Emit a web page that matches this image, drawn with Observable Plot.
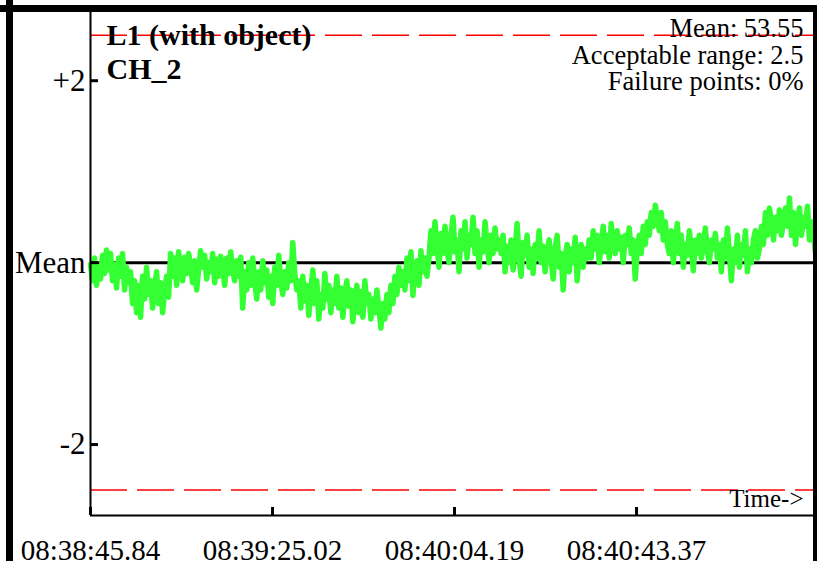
<!DOCTYPE html>
<html><head><meta charset="utf-8">
<script src="https://cdn.jsdelivr.net/npm/d3@7"></script>
<script src="https://cdn.jsdelivr.net/npm/@observablehq/plot@0.6"></script>
<style>
html,body{margin:0;padding:0;background:#fff;width:817px;height:561px;overflow:hidden}
#wrap{position:relative;width:817px;height:561px}
#chart{position:absolute;left:0;top:0}
.bar{position:absolute;background:#000}
</style></head><body>
<div id="wrap"><div id="chart"></div>
<div class="bar" style="left:0;top:5px;width:815px;height:7px"></div>
<div class="bar" style="left:6px;top:0;width:7px;height:561px"></div>
<div class="bar" style="left:813px;top:5px;width:4px;height:556px"></div>
</div>
<script>
const tickLabels = ["08:38:45.84", "08:39:25.02", "08:40:04.19", "08:40:43.37"];
const windowSeconds = 156.05;
const yTickValues = [2, 0, -2];
const yTickLabels = ["+2", "Mean", "-2"];
const titleLines = ["L1 (with object)", "CH_2"];
const infoLines = ["Mean: 53.55", "Acceptable range: 2.5", "Failure points: 0%"];
const axisNote = ["Time->"];
const acceptableRange = 2.5;
const yDomain = [-2.78, 2.75];
// deviation from mean (left to right)
const deviation = [
  -0.02, -0.2, 0.05, -0.25, -0.05, -0.18, 0.08, -0.12, 0.14, -0.08, 0.1, -0.2, -0.02, -0.28, 0.05, -0.15, 0.1, -0.3, -0.05, -0.22,
  -0.1, -0.45, -0.2, -0.55, -0.25, -0.6, -0.15, -0.4, -0.05, -0.35, -0.2, -0.5, -0.28, -0.1, -0.45, -0.22, -0.55, -0.3, -0.15, -0.38,
  0.1, -0.15, 0.05, -0.25, 0.12, -0.08, -0.2, 0.06, -0.12, 0.1, -0.05, -0.22, 0.02, -0.3, -0.08, 0.13, -0.05, 0.08, -0.18, 0.0, -0.1, 0.1, -0.22, 0.04, -0.15, 0.07, -0.05, -0.25, 0.05, -0.12, 0.12, -0.08, -0.2, 0.02, -0.15, 0.06, -0.5,
  -0.1, -0.3, 0.0, -0.25, 0.05, -0.2, -0.4, -0.1, -0.3, 0.02, -0.22, -0.08, -0.38, -0.15, -0.45, -0.05, -0.25, 0.08, -0.2, -0.35, -0.1, -0.28, 0.0, -0.2, 0.22, -0.12, -0.3,
  -0.2, -0.5, -0.15, -0.42, -0.25, -0.58, -0.3, -0.08, -0.45, -0.2, -0.62, -0.35, -0.5, -0.12, -0.4, -0.25, -0.55, -0.3, -0.45, -0.15, -0.5, -0.28, -0.6, -0.35, -0.2, -0.48, -0.3, -0.65, -0.4, -0.25, -0.55, -0.32, -0.6, -0.2, -0.45, -0.35, -0.62, -0.4, -0.55, -0.3, -0.5,
  -0.72, -0.45, -0.62, -0.35, -0.55, -0.25, -0.45, -0.15, -0.35, -0.05, -0.25, -0.1,
  -0.3, 0.05, -0.2, 0.12, -0.36, -0.05, 0.02, -0.25, 0.13, -0.1, 0.05, -0.15,
  0.05, 0.35, 0.1, 0.45, 0.2, -0.05, 0.32, 0.1, 0.4, 0.15, 0.0, 0.3, 0.5, 0.12, 0.25, -0.1, 0.35, 0.15, 0.45, 0.05, 0.3, 0.2, 0.5, 0.1, 0.35, -0.05, 0.25, 0.12, 0.45, 0.2, 0.0, 0.3, 0.1, 0.38, 0.15, 0.25,
  0.1, 0.3, -0.1, 0.18, 0.0, 0.25, -0.08, 0.12, 0.43, 0.05, -0.15, 0.22, 0.08, 0.3, -0.05, 0.15, -0.12, 0.2, 0.05, 0.35, 0.0, 0.18, -0.1, 0.12, 0.25, 0.02, -0.18, 0.15, 0.3, -0.05, 0.1, -0.3, 0.05, 0.2, -0.1, 0.15, 0.0, 0.28, -0.2, 0.1, 0.2, -0.05, 0.15, 0.05,
  0.25, 0.05, 0.35, 0.15, 0.3, 0.0, 0.2, 0.4, 0.12, 0.3, 0.05, 0.43, 0.2, 0.1, 0.35, 0.15, 0.28, 0.0, 0.3, 0.2, 0.38, 0.1, 0.25,
  -0.18, 0.15, 0.3, 0.1, 0.4, 0.2, 0.45, 0.3, 0.55, 0.4, 0.63, 0.5, 0.35, 0.55, 0.25, 0.45, 0.2,
  0.1, 0.35, 0.0, 0.25, 0.43, 0.1, 0.3, -0.05, 0.2, 0.08, 0.35, 0.15, -0.09, 0.25, 0.1, 0.3, 0.05, 0.2, 0.38, 0.12, 0.0, 0.25, 0.15, 0.32, 0.05,
  0.2, -0.1, 0.25, 0.05, 0.38, 0.1, -0.2, 0.15, 0.0, 0.3, -0.05, 0.2, 0.08, 0.35, -0.1, 0.15, 0.0, 0.25, 0.35, 0.05, 0.15,
  0.4, 0.2, 0.55, 0.3, 0.6, 0.45, 0.25, 0.5, 0.35, 0.58, 0.3, 0.45, 0.6, 0.4,
  0.71, 0.3, 0.55, 0.2, 0.45, 0.6, 0.3, 0.5, 0.4, 0.62, 0.25, 0.45, 0.3, 0.1
];

const toSec = s => { const [h, m, sec] = s.split(":").map(Number); return h * 3600 + m * 60 + sec; };
const tickTimes = tickLabels.map(toSec);
const startTime = tickTimes[0];
const endTime = startTime + windowSeconds;
const data = deviation.map((v, i) => ({t: startTime + i * windowSeconds / (deviation.length - 1), v}));

const plot = Plot.plot({
  width: 817, height: 561,
  marginLeft: 90, marginRight: 2, marginTop: 12, marginBottom: 46,
  style: {fontFamily: "'Liberation Serif', 'Times New Roman', serif", background: "white", color: "black", overflow: "visible"},
  x: {domain: [startTime, endTime]},
  y: {domain: yDomain},
  marks: [
    Plot.ruleY([-acceptableRange, acceptableRange], {stroke: "#ff0000", strokeWidth: 1.5, strokeDasharray: "37,10"}),
    Plot.ruleY([0], {stroke: "black", strokeWidth: 3}),
    Plot.line(data, {x: "t", y: "v", stroke: "#33ff33", strokeWidth: 5.5, strokeLinejoin: "round", strokeLinecap: "round"}),
    Plot.ruleX([startTime], {stroke: "black", strokeWidth: 2}),
    Plot.ruleY([yDomain[0]], {stroke: "black", strokeWidth: 2}),
    Plot.axisY(yTickValues, {tickSize: -8, strokeWidth: 3, tickFormat: () => "", label: null}),
    Plot.axisY(yTickValues, {tickSize: 0, tickPadding: 5, fontSize: 31, tickFormat: d => yTickLabels[yTickValues.indexOf(d)], label: null}),
    Plot.axisX(tickTimes, {tickSize: -8, strokeWidth: 3, tickFormat: () => "", label: null}),
    Plot.axisX(tickTimes, {tickSize: 0, tickPadding: 24, fontSize: 29, tickFormat: d => tickLabels[tickTimes.indexOf(d)], label: null}),
    Plot.text([titleLines.join("\n")], {text: d => d, frameAnchor: "top-left", dx: 16, dy: 9, lineAnchor: "top", textAnchor: "start", fontSize: 30, fontWeight: "bold", lineHeight: 1.12}),
    Plot.text([infoLines.join("\n")], {text: d => d, frameAnchor: "top-right", dx: -12, dy: 6, lineAnchor: "top", textAnchor: "end", fontSize: 26.5, lineHeight: 1.0}),
    Plot.text(axisNote, {text: d => d, frameAnchor: "bottom-right", dx: -12, dy: -9, lineAnchor: "bottom", textAnchor: "end", fontSize: 25})
  ]
});
document.getElementById("chart").appendChild(plot);
</script>
</body></html>
